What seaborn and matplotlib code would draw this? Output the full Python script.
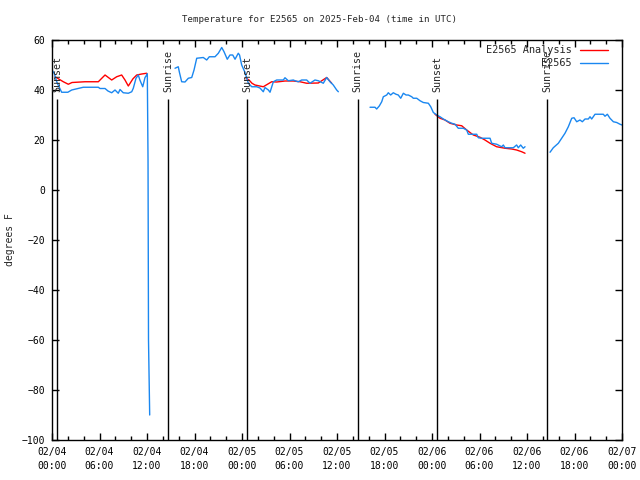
import numpy as np
import pandas as pd
import matplotlib
matplotlib.use("Agg")
import matplotlib.pyplot as plt
import matplotlib.dates as mdates
from matplotlib.lines import Line2D
import seaborn as sns

nan = np.nan
start = pd.Timestamp("2025-02-04 00:00")

# hours after 02/04 00:00 UTC, nan marks a gap in the record
obs_hours = [0.0, 0.3, 0.63, 1.22, 2.0, 2.49, 3.95, 5.85, 6.06, 6.7, 7.07, 7.54, 7.96, 8.37,
             8.59, 9.0, 9.64, 10.07, 10.27, 10.61, 10.9, 11.1, 11.46, 11.75, 11.96, 12.04,
             12.13, 12.19, 12.34, nan,
             15.54, 15.95, 16.1, 16.38, 16.8, 17.22, 17.65, 17.94, 18.28, 19.11, 19.54, 19.87,
             20.59, 21.01, 21.44, 21.73, 22.14, 22.48, 22.83, 23.12, 23.53, 23.69, 23.96, 24.38,
             24.8, 25.23, 25.86, 26.27, 26.69, 26.9, 27.33, 27.54, 27.96, 28.38, 29.22, 29.43,
             29.85, 30.48, 30.7, 31.11, 31.54, 32.17, 32.59, 33.22, 33.64, 34.27, 34.7, 35.12,
             35.53, 35.96, 36.17, nan,
             40.17, 40.8, 41.01, 41.34, 41.65, 41.85, 42.28, 42.48, 42.78, 43.11, 43.45, 43.74,
             44.05, 44.38, 44.72, 45.01, 45.44, 45.64, 46.07, 46.49, 46.9, 47.54, 47.84, 48.17,
             48.6, 49.01, 49.43, 50.06, 50.49, 50.91, 51.32, 51.96, 52.38, 52.59, 53.65, 53.85,
             54.28, 55.33, 55.54, 56.17, 56.8, 57.01, 57.22, 57.85, 58.27, 58.69, 58.9, 59.2,
             59.53, 59.75, nan,
             62.91, 63.32, 63.96, 64.38, 64.8, 65.22, 65.65, 65.94, 66.28, 66.69, 66.99, 67.33,
             67.75, 67.96, 68.17, 68.59, 69.64, 69.85, 70.15, 70.48, 70.91, 71.33, 71.75, 72.0]
obs_temp = [48.0, 46.5, 43.0, 39.1, 39.1, 40.0, 41.1, 41.1, 40.6, 40.6, 39.6, 38.9, 40.0, 38.7,
            40.2, 38.9, 38.7, 39.3, 40.7, 44.7, 46.0, 44.0, 41.3, 45.0, 46.0, 46.5,
            12.0, -60.0, -90.0, nan,
            48.7, 49.3, 47.0, 43.3, 43.2, 44.7, 45.0, 48.0, 52.7, 53.0, 52.0, 53.3,
            53.3, 54.7, 57.0, 55.3, 52.3, 54.0, 54.0, 52.3, 54.7, 54.0, 50.0, 47.0,
            42.7, 41.3, 41.3, 40.8, 39.3, 41.0, 40.0, 39.1, 43.3, 44.0, 44.0, 44.9,
            43.7, 44.0, 43.7, 43.3, 44.0, 44.0, 42.7, 44.0, 43.7, 42.7, 45.0, 43.3,
            42.0, 40.0, 39.3, nan,
            33.1, 33.1, 32.4, 33.6, 35.3, 37.3, 38.0, 38.9, 38.0, 38.9, 38.3, 38.0,
            36.7, 38.7, 38.0, 38.0, 37.3, 36.7, 36.7, 35.7, 35.0, 34.7, 33.3, 31.0,
            30.0, 29.3, 28.4, 27.3, 26.7, 26.3, 24.7, 24.7, 24.0, 22.3, 22.3, 20.9,
            20.7, 20.7, 18.7, 18.3, 17.3, 18.0, 16.9, 16.9, 16.9, 18.0, 16.9, 18.0,
            16.7, 17.3, nan,
            15.1, 16.9, 18.7, 20.7, 22.7, 25.3, 28.7, 28.9, 27.3, 28.0, 27.3, 28.4,
            28.4, 29.3, 28.4, 30.3, 30.3, 29.5, 30.3, 28.7, 27.3, 27.0, 26.3, 26.0]

ana_hours = [0.38, 1.43, 2.06, 2.53, 4.17, 5.85, 6.7, 7.54, 8.17, 8.8, 9.22, 9.64, 10.23,
             10.7, 11.33, 11.96, nan,
             24.5, 24.89, 25.26, 25.64, 26.69, 27.75, 28.38, 29.43, 30.48, 31.33, 32.17,
             33.64, 34.7, 35.33, nan,
             48.38, 49.01, 49.64, 50.27, 51.12, 51.75, 52.38, 53.22, 54.06, 54.69, 55.33,
             56.17, 57.22, 58.07, 58.69, 59.33, 59.75]
ana_temp = [45.3, 43.3, 42.3, 43.0, 43.3, 43.3, 46.0, 44.0, 45.3, 46.0, 44.0, 41.6, 44.5,
            46.0, 46.4, 46.7, nan,
            44.7, 44.0, 42.7, 42.0, 41.3, 43.3, 43.2, 43.6, 43.6, 43.3, 42.7,
            42.8, 45.0, 42.7, nan,
            30.3, 28.7, 28.0, 26.7, 26.0, 25.7, 24.0, 22.0, 21.1, 20.0, 18.7,
            17.3, 16.7, 16.4, 16.0, 15.3, 14.7]

sunset_hours = [0.67, 24.67, 48.67]
sunrise_hours = [14.69, 38.6, 62.57]

series_names = ["E2565 Analysis", "E2565"]
series_colors = ["#ff0000", "#1a87f0"]


def make_frame(hours, temps, name):
    df = pd.DataFrame({"hours": hours, "temp": temps})
    df["segment"] = df["temp"].isna().cumsum()
    df = df.dropna()
    df["time"] = start + pd.to_timedelta(df["hours"], unit="h")
    df["series"] = name
    df["unit"] = name + "_" + df["segment"].astype(str)
    return df


data = pd.concat([make_frame(ana_hours, ana_temp, series_names[0]),
                  make_frame(obs_hours, obs_temp, series_names[1])], ignore_index=True)

sns.set_style("ticks")
plt.rcParams["font.family"] = ["DejaVu Sans Mono"]
plt.rcParams["font.size"] = 7

fig = plt.figure(figsize=(6.4, 4.8), dpi=100)
ax = fig.add_axes([52 / 640, 40 / 480, 570 / 640, 400 / 480])

sns.lineplot(data=data, x="time", y="temp", hue="series", units="unit", estimator=None,
             hue_order=series_names, palette=dict(zip(series_names, series_colors)),
             linewidth=1.0, legend=False, ax=ax)

def to_time(h):
    return start + pd.to_timedelta(h, unit="h")

for name, hours in [("Sunset", sunset_hours), ("Sunrise", sunrise_hours)]:
    for h in hours:
        t = mdates.date2num(to_time(h).to_pydatetime())
        ax.vlines(t, -100, 36.5, color="black", lw=1.0)
        ax.text(t, 39, name, rotation=90, ha="center", va="bottom", fontsize=7.2)

x0 = mdates.date2num(start.to_pydatetime())
x1 = mdates.date2num((start + pd.Timedelta(hours=72)).to_pydatetime())
ax.set_xlim(x0, x1)
ax.set_ylim(-100, 60)

major = pd.date_range(start, periods=13, freq="6h")
minor = pd.date_range(start, periods=37, freq="2h")
ax.set_xticks(mdates.date2num(major.to_pydatetime()),
              [t.strftime("%m/%d\n%H:%M") for t in major])
ax.set_xticks(mdates.date2num(minor.to_pydatetime()), minor=True)
ax.set_yticks(np.arange(-100, 61, 20))
for lbl in ax.get_xticklabels():
    lbl.set_linespacing(1.45)

ax.tick_params(which="both", direction="in", top=True, right=True, colors="black",
               labelsize=7, width=1)
ax.tick_params(which="major", length=5)
ax.tick_params(which="minor", length=3)
ax.tick_params(axis="x", pad=5)
ax.tick_params(axis="y", pad=5)
for sp in ax.spines.values():
    sp.set_color("black")
    sp.set_linewidth(1)

ax.set_xlabel("")
ax.set_ylabel("")
fig.text(0.016, 0.5, "degrees F", rotation=90, ha="center", va="center", fontsize=7)
fig.text(0.5, 1 - 19 / 480, "Temperature for E2565 on 2025-Feb-04 (time in UTC)",
         ha="center", va="center", fontsize=6.6)

handles = [Line2D([], [], color=c, lw=1.0) for c in series_colors]
ax.legend(handles, series_names, loc="upper right", bbox_to_anchor=(1 - 9 / 570, 1.0),
          frameon=False, markerfirst=False, alignment="right", fontsize=7.4,
          handlelength=2.7, handletextpad=0.8, labelspacing=0.3,
          borderaxespad=0.2, borderpad=0.3)

fig.savefig("out.png", dpi=100)
